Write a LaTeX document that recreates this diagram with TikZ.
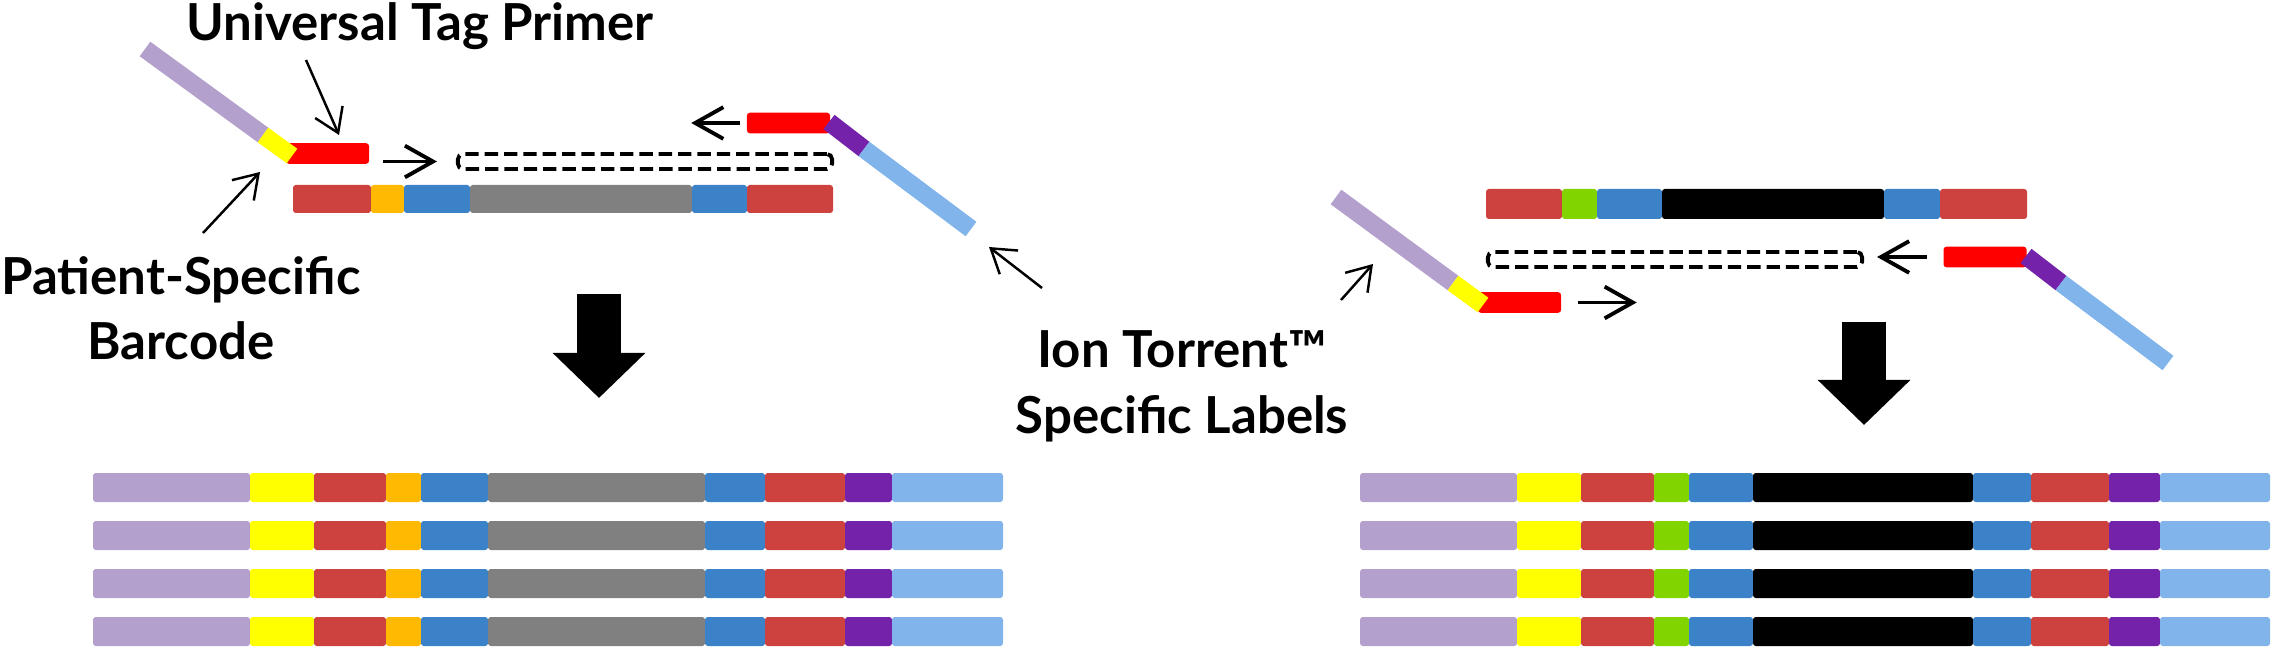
\documentclass[tikz,border=0pt]{standalone}
\usepackage{fontspec}
\setmainfont{Lato}
\usetikzlibrary{arrows.meta}
\definecolor{lila}{RGB}{180,160,204}
\definecolor{gelb}{RGB}{255,255,0}
\definecolor{tred}{RGB}{205,66,62}
\definecolor{torange}{RGB}{255,185,0}
\definecolor{tblue}{RGB}{60,130,200}
\definecolor{tgray}{RGB}{128,128,128}
\definecolor{tgreen}{RGB}{130,212,0}
\definecolor{primred}{RGB}{255,0,0}
\definecolor{ionpurple}{RGB}{117,34,170}
\definecolor{lightblue}{RGB}{128,180,235}

\begin{document}
\begin{tikzpicture}[x=0.01cm, y=-0.01cm,
    lbl/.style={font=\fontsize{14.5pt}{18.5pt}\selectfont\bfseries, inner sep=0pt, align=center},
    seg/.style={rounded corners=0.8pt},
    primer/.style={fill=primred, rounded corners=0.8pt, inner sep=0pt,
      minimum width=0.83cm, minimum height=0.205cm},
    ext/.style={draw, line width=1.1pt, dash pattern=on 3.8pt off 1.7pt,
      rounded corners=1.5pt, inner sep=0pt, minimum width=3.74cm, minimum height=0.15cm},
    adapter/.style={line width=0.18cm},
    flow/.style={line width=1.1pt, -{Straight Barb[length=8pt, width=9pt]}},
    pointer/.style={line width=0.7pt, -{Straight Barb[length=6.5pt, width=8.5pt]}},
    bigarrow/.style={line width=0.44cm, -{Triangle[length=0.45cm, width=0.9cm]}}]

    \useasboundingbox (0,0) rectangle (2276,652);

    % Vorlage links (grau) und rechts (schwarz)
    \foreach \xa/\xb/\c in {293/371/tred, 371/404/torange, 404/470/tblue,
        470/692/tgray, 692/747/tblue, 747/833/tred}
      \fill[\c, seg] (\xa,185) rectangle (\xb,213);
    \foreach \xa/\xb/\c in {1486/1562/tred, 1562/1597/tgreen, 1597/1662/tblue,
        1662/1884/black, 1884/1940/tblue, 1940/2027/tred}
      \fill[\c, seg] (\xa,189) rectangle (\xb,219);

    % Primer links
    \node[primer] (fwdL) at (327.5,153.5) {};
    \node[primer] (revL) at (788.5,123) {};
    \node[ext] (extL) at (645,161.5) {};
    \draw[adapter, lila] (145,49) -- (263,135);
    \draw[adapter, gelb] (263,135) -- (292,156);
    \draw[adapter, ionpurple] (829,122) -- (864,149);
    \draw[adapter, lightblue] (864,149) -- (971,229);
    \draw[flow, shorten <=0.13cm, shorten >=0.19cm] (fwdL.east |- extL.west) -- (extL.west);
    \draw[flow, shorten <=0.06cm] (revL.west) -- ++(-55,0);

    % Primer rechts
    \node[primer] (fwdR) at (1519.5,302.5) {};
    \node[primer] (revR) at (1985,257) {};
    \node[ext] (extR) at (1675,259.5) {};
    \draw[adapter, lila] (1336,197) -- (1453,283);
    \draw[adapter, gelb] (1453,283) -- (1483,305);
    \draw[adapter, ionpurple] (2026,256) -- (2061,283);
    \draw[adapter, lightblue] (2061,283) -- (2168,363);
    \draw[flow, shorten <=0.16cm] (fwdR.east) -- ++(75,0);
    \draw[flow, shorten <=0.16cm, shorten >=0.13cm] (revR.west) -- (revR.west -| extR.east);

    % Beschriftungen (base = letzte Zeile)
    \node[lbl, anchor=base] (utp) at (420,41) {Universal Tag Primer};
    \node[lbl, anchor=base] (bc) at (181,360) {Patient-Specific\\Barcode};
    \node[lbl, anchor=base] (ion) at (1182,433) {Ion Torrent™\\Specific Labels};

    % Zeiger
    \coordinate (utp-a) at (306,60);   \coordinate (utp-b) at (339,135);
    \coordinate (bc-a) at (203,233);   \coordinate (bc-b) at (260,172);
    \coordinate (ion-a) at (1042,288); \coordinate (ion-b) at (989,247);
    \coordinate (ion-c) at (1341,300); \coordinate (ion-d) at (1373,264);
    \draw[pointer] (utp-a) -- (utp-b);
    \draw[pointer] (bc-a) -- (bc-b);
    \draw[pointer] (ion-a) -- (ion-b);
    \draw[pointer] (ion-c) -- (ion-d);

    % grosse Pfeile
    \coordinate (downL-a) at (599,294); \coordinate (downL-b) at (599,398);
    \coordinate (downR-a) at (1864,322); \coordinate (downR-b) at (1864,425);
    \draw[bigarrow] (downL-a) -- (downL-b);
    \draw[bigarrow] (downR-a) -- (downR-b);

    % Produkte
    \foreach \y in {473,521,569,617} {
      \foreach \xa/\xb/\c in {93/250/lila, 250/314/gelb, 314/386/tred, 386/421/torange,
          421/488/tblue, 488/705/tgray, 705/765/tblue, 765/845/tred,
          845/892/ionpurple, 892/1003/lightblue}
        \fill[\c, seg] (\xa,\y) rectangle (\xb,\y+29);
      \foreach \xa/\xb/\c in {1360/1517/lila, 1517/1581/gelb, 1581/1654/tred, 1654/1689/tgreen,
          1689/1753/tblue, 1753/1973/black, 1973/2031/tblue, 2031/2109/tred,
          2109/2160/ionpurple, 2160/2270/lightblue}
        \fill[\c, seg] (\xa,\y) rectangle (\xb,\y+29);
    }
\end{tikzpicture}
\end{document}
